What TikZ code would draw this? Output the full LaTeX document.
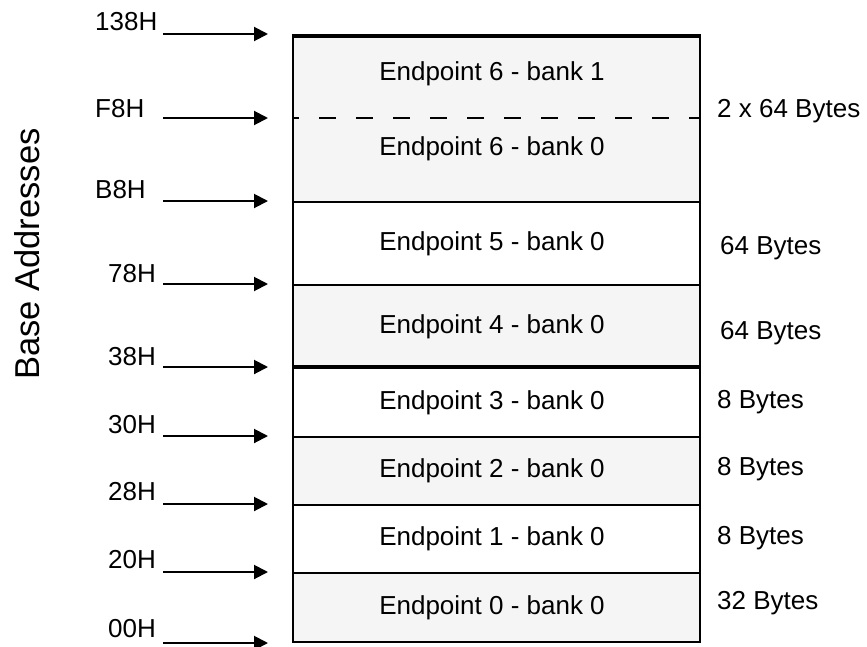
\documentclass[tikz,border=0pt]{standalone}
\usepackage{fontspec}
\setmainfont{Liberation Sans}
\usetikzlibrary{arrows.meta,positioning,calc}
\definecolor{shade}{HTML}{F5F5F5}

\begin{document}
\begin{tikzpicture}[x=1pt,y=-1pt,
    mem/.style={rectangle,draw,line width=2pt,minimum width=407pt,inner sep=0pt,font=\fontsize{26}{31}\selectfont,execute at begin node=\hspace*{-9pt}},
    txt/.style={inner sep=0pt,font=\fontsize{26}{31}\selectfont},
    bytes/.style={txt,anchor=base west},
    arr/.style={-{Triangle[length=14pt,width=14pt]},line width=2pt},
    sep/.style={line width=4pt},
    bankline/.style={line width=2pt,dash pattern=on 17pt off 20pt,dash phase=10pt},
]
\useasboundingbox (0,0) rectangle (867,646);

% Memory rows
\node[mem,fill=shade,minimum height=165pt] (ep6) at (496.5,119.5) {};
\node[txt] (ep6h) at (492,74) {Endpoint 6 - bank 1};
\node[txt] (ep6l) at (492,149) {Endpoint 6 - bank 0};
\node[mem,fill=white,minimum height=83pt] (ep5) at (496.5,243.5) {Endpoint 5 - bank 0};
\node[mem,fill=shade,minimum height=83pt] (ep4) at (496.5,326.5) {Endpoint 4 - bank 0};
\node[mem,fill=white,minimum height=69pt] (ep3) at (496.5,402.5) {Endpoint 3 - bank 0};
\node[mem,fill=shade,minimum height=68pt] (ep2) at (496.5,471) {Endpoint 2 - bank 0};
\node[mem,fill=white,minimum height=68pt] (ep1) at (496.5,539) {Endpoint 1 - bank 0};
\node[mem,fill=shade,minimum height=69pt] (ep0) at (496.5,607.5) {Endpoint 0 - bank 0};

% Heavy and dashed separators
\draw[sep] (ep6.north west) -- (ep6.north east);
\draw[sep] (ep3.north west) -- (ep3.north east);
\draw[bankline] ($(ep6.north west)!0.491!(ep6.south west)$) -- ($(ep6.north east)!0.491!(ep6.south east)$);

% Base address labels
\node[rotate=90,inner sep=0pt,font=\fontsize{34.5}{40}\selectfont] (base) at (27,254) {Base Addresses};
\node[txt,anchor=base west] (a138) at (95,30) {138H};
\node[txt,anchor=base west] (aF8) at (95,117) {F8H};
\node[txt,anchor=base west] (aB8) at (95,198) {B8H};
\node[txt,anchor=base east] (a78) at (156,282) {78H};
\node[txt,anchor=base east] (a38) at (156,365) {38H};
\node[txt,anchor=base east] (a30) at (156,433) {30H};
\node[txt,anchor=base east] (a28) at (156,500) {28H};
\node[txt,anchor=base east] (a20) at (156,568) {20H};
\node[txt,anchor=base east] (a00) at (156,637) {00H};

% Arrows
\draw[arr] ([xshift=-129pt,yshift=2pt]ep6.north west) -- ([xshift=-24pt,yshift=2pt]ep6.north west);
\draw[arr] ($(ep6.north west)!0.491!(ep6.south west)+(-129,0)$) -- ($(ep6.north west)!0.491!(ep6.south west)+(-24,0)$);
\draw[arr] ([xshift=-129pt]ep5.north west) -- ([xshift=-24pt]ep5.north west);
\draw[arr] ([xshift=-129pt]ep4.north west) -- ([xshift=-24pt]ep4.north west);
\draw[arr] ([xshift=-129pt]ep3.north west) -- ([xshift=-24pt]ep3.north west);
\draw[arr] ([xshift=-129pt]ep2.north west) -- ([xshift=-24pt]ep2.north west);
\draw[arr] ([xshift=-129pt]ep1.north west) -- ([xshift=-24pt]ep1.north west);
\draw[arr] ([xshift=-129pt]ep0.north west) -- ([xshift=-24pt]ep0.north west);
\draw[arr] ([xshift=-129pt]ep0.south west) -- ([xshift=-24pt]ep0.south west);

% Sizes
\node[bytes] (s6) at (717,117) {2 x 64 Bytes};
\node[bytes] (s5) at (720,254) {64 Bytes};
\node[bytes] (s4) at (720,339) {64 Bytes};
\node[bytes] (s3) at (717,408) {8 Bytes};
\node[bytes] (s2) at (717,475) {8 Bytes};
\node[bytes] (s1) at (717,544) {8 Bytes};
\node[bytes] (s0) at (717,609) {32 Bytes};
\end{tikzpicture}
\end{document}
